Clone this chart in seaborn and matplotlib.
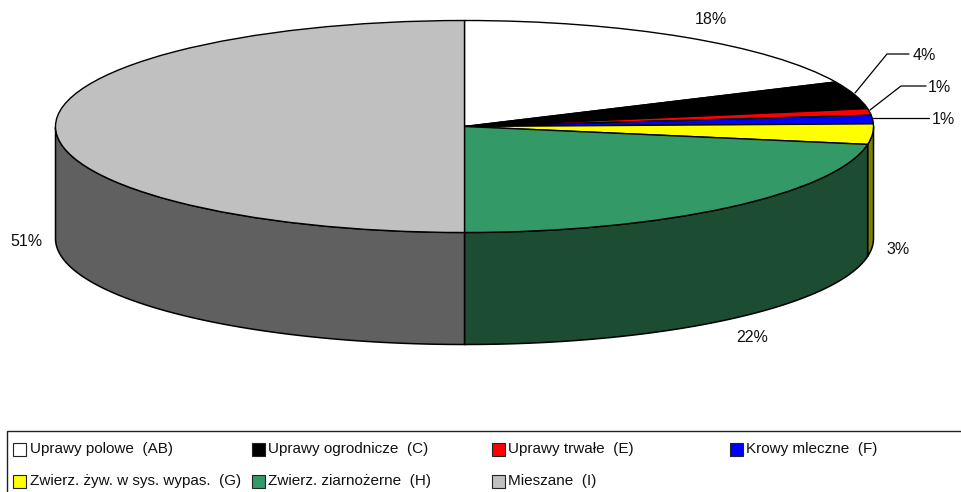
import numpy as np
import seaborn as sns
import matplotlib
matplotlib.use('Agg')
import matplotlib.pyplot as plt
from matplotlib.patches import Rectangle

categories = ['Uprawy polowe  (AB)', 'Uprawy ogrodnicze  (C)', 'Uprawy trwałe  (E)', 'Krowy mleczne  (F)',
              'Zwierz. żyw. w sys. wypas.  (G)', 'Zwierz. ziarnożerne  (H)', 'Mieszane  (I)']
values = [18.1, 4.2, 1.0, 1.3, 3.1, 22.3, 50.0]
pct_labels = ['18%', '4%', '1%', '1%', '3%', '22%', '51%']
top_colors = ['#FFFFFF', '#000000', '#FF0000', '#0000FF', '#FFFF00', '#339966', '#C0C0C0']
side_colors = ['#808080', '#000000', '#800000', '#000080', '#808000', '#1C4D33', '#606060']

sns.set_theme(style='white')
plt.rcParams['font.family'] = ['Liberation Sans', 'DejaVu Sans']

W, H = 961, 492
CX, CY, RX, RY, DEPTH = 464.5, 126.5, 409.0, 106.0, 112.0

fig = plt.figure(figsize=(W / 100, H / 100), dpi=100, facecolor='white')
ax = fig.add_axes([0, 0, 1, 1])
wedges, _ = ax.pie(values, colors=top_colors, startangle=90, counterclock=False,
                   wedgeprops={'edgecolor': 'black', 'linewidth': 1.0, 'zorder': 5})
# squash the unit circle into the tilted ellipse
ax.set_aspect('auto')
ax.set_xlim(-CX / RX, (W - CX) / RX)
ax.set_ylim((CY - H) / RY, CY / RY)
ax.axis('off')

# side wall, only the front half of the ellipse shows
d = DEPTH / RY
for w, col in zip(wedges, side_colors):
    lo, hi = w.theta1 % 360, w.theta2 % 360
    if hi <= lo:
        hi += 360
    t = np.radians(np.linspace(lo, hi, 200))
    front = np.sin(t) <= 0
    if not front.any():
        continue
    x, y = np.cos(t[front]), np.sin(t[front])
    ax.fill(np.r_[x, x[::-1]], np.r_[y, y[::-1] - d], facecolor=col, edgecolor='black',
            linewidth=1.1, zorder=2)

over = fig.add_axes([0, 0, 1, 1], facecolor='none')
over.set_xlim(0, W)
over.set_ylim(H, 0)
over.axis('off')

# leader lines
over.plot([855, 887, 909], [93, 54, 54], color='black', lw=0.9)
over.plot([870, 901, 926], [110, 86, 86], color='black', lw=0.9)
over.plot([873, 929], [118, 118], color='black', lw=0.9)

label_pos = [(710.5, 20), (924, 55), (939, 87), (943, 119), (898, 249), (752.5, 338), (26, 242)]
for s, (px, py) in zip(pct_labels, label_pos):
    over.text(px, py, s, ha='center', va='center', fontsize=11.5, color='#111111')

# legend box runs off the right and bottom edge
over.add_patch(Rectangle((7, 431), 1000, 100, facecolor='white', edgecolor='#222222', lw=1.0))
col_x = [13, 252, 492, 730]
row_y = [449, 481]
slots = [(0, 0), (1, 0), (2, 0), (3, 0), (0, 1), (1, 1), (2, 1)]
for name, col, (c, r) in zip(categories, top_colors, slots):
    over.add_patch(Rectangle((col_x[c], row_y[r] - 6.5), 13, 13, facecolor=col, edgecolor='#222222', lw=0.8))
    over.text(col_x[c] + 16.5, row_y[r], name, ha='left', va='center', fontsize=11, color='#111111')

fig.savefig('out.png', dpi=100)
